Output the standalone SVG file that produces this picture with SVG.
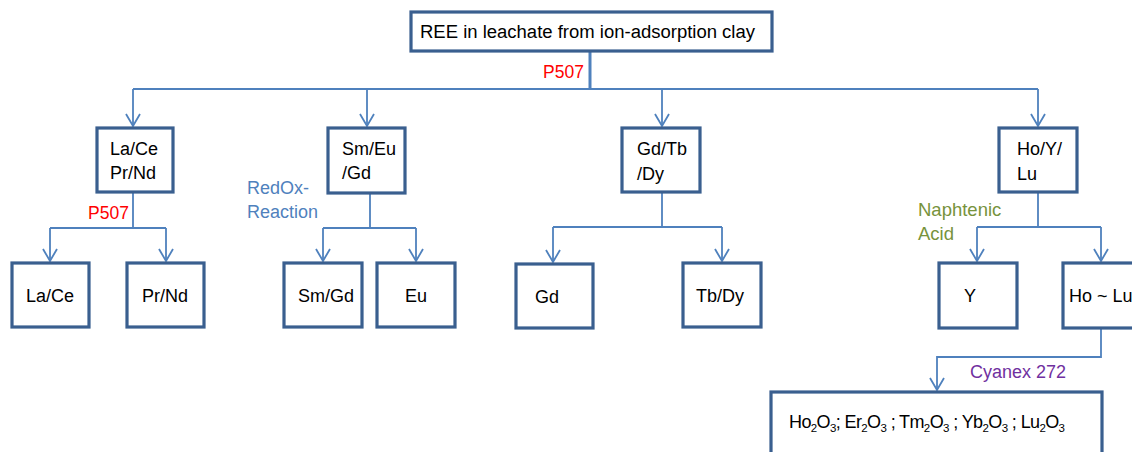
<svg xmlns="http://www.w3.org/2000/svg" width="1132" height="452" viewBox="0 0 1132 452">
  <style>
    .box { fill: #ffffff; stroke: #3a5f8f; stroke-width: 3.2; }
    .lbl { font-family: "Liberation Sans", Arial, sans-serif; font-size: 18px; fill: #000000; }
    .con { fill: none; stroke: #4f81bd; stroke-width: 1.8; }
    .note { font-family: "Liberation Sans", Arial, sans-serif; font-size: 18px; }
    .sub { font-size: 11.5px; }
  </style>
  <defs>
    <marker id="arrow" markerUnits="userSpaceOnUse" markerWidth="20" markerHeight="20" refX="0" refY="0" orient="auto" overflow="visible">
      <path d="M -12 -7 L 0 0 L -12 7" fill="none" stroke="#4f81bd" stroke-width="1.8"/>
    </marker>
  </defs>

  <rect width="1132" height="452" fill="#ffffff"/>

  <!-- connectors -->
  <g id="connectors" class="con">
    <path d="M590 51 V89" stroke-width="3"/>
    <path d="M133 89 H1038"/>
    <path d="M133 89 V126" marker-end="url(#arrow)"/>
    <path d="M367 89 V126" marker-end="url(#arrow)"/>
    <path d="M662 89 V126" marker-end="url(#arrow)"/>
    <path d="M1038 89 V126" marker-end="url(#arrow)"/>

    <path d="M133 193 V228 M50 228 H166"/>
    <path d="M50 228 V261" marker-end="url(#arrow)"/>
    <path d="M166 228 V261" marker-end="url(#arrow)"/>

    <path d="M370 194 V228 M323 228 H416"/>
    <path d="M323 228 V261" marker-end="url(#arrow)"/>
    <path d="M416 228 V261" marker-end="url(#arrow)"/>

    <path d="M662 193 V227 M553 227 H722"/>
    <path d="M553 227 V262" marker-end="url(#arrow)"/>
    <path d="M722 227 V261" marker-end="url(#arrow)"/>

    <path d="M1038 193 V227 M977 227 H1101"/>
    <path d="M977 227 V261" marker-end="url(#arrow)"/>
    <path d="M1101 227 V261" marker-end="url(#arrow)"/>

    <path d="M1101 329 V357 H937 V390" marker-end="url(#arrow)"/>
  </g>

  <!-- reagent labels -->
  <g id="labels" class="note">
    <text x="543" y="78" fill="#ff0000" font-size="17.5">P507</text>
    <text x="88" y="219" fill="#ff0000" font-size="17.5">P507</text>
    <text x="247" y="194" fill="#4f81bd">RedOx-</text>
    <text x="247" y="218" fill="#4f81bd">Reaction</text>
    <text x="918" y="216" fill="#77933c" font-size="18.5">Naphtenic</text>
    <text x="918" y="240" fill="#77933c" font-size="18.5">Acid</text>
    <text x="970" y="378" fill="#7030a0">Cyanex 272</text>
  </g>

  <!-- nodes -->
  <g id="source">
    <rect class="box" x="411" y="12" width="361" height="39"/>
    <text class="lbl" x="420" y="38" textLength="335" lengthAdjust="spacingAndGlyphs">REE in leachate from ion-adsorption clay</text>
  </g>
  <g id="la-ce-pr-nd">
    <rect class="box" x="97" y="128" width="76" height="64"/>
    <text class="lbl" x="110" y="155">La/Ce</text>
    <text class="lbl" x="110" y="179">Pr/Nd</text>
  </g>
  <g id="sm-eu-gd">
    <rect class="box" x="328" y="128" width="77" height="65"/>
    <text class="lbl" x="342" y="155">Sm/Eu</text>
    <text class="lbl" x="342" y="179">/Gd</text>
  </g>
  <g id="gd-tb-dy">
    <rect class="box" x="622" y="128" width="78" height="64"/>
    <text class="lbl" x="637" y="155">Gd/Tb</text>
    <text class="lbl" x="637" y="180">/Dy</text>
  </g>
  <g id="ho-y-lu">
    <rect class="box" x="999" y="128" width="78" height="64"/>
    <text class="lbl" x="1017" y="155">Ho/Y/</text>
    <text class="lbl" x="1017" y="180">Lu</text>
  </g>
  <g id="la-ce">
    <rect class="box" x="12" y="263" width="77" height="64"/>
    <text class="lbl" x="26" y="302">La/Ce</text>
  </g>
  <g id="pr-nd">
    <rect class="box" x="127" y="263" width="77" height="64"/>
    <text class="lbl" x="142" y="302">Pr/Nd</text>
  </g>
  <g id="sm-gd">
    <rect class="box" x="284" y="263" width="78" height="64"/>
    <text class="lbl" x="298" y="302">Sm/Gd</text>
  </g>
  <g id="eu">
    <rect class="box" x="377" y="263" width="78" height="64"/>
    <text class="lbl" x="405" y="302">Eu</text>
  </g>
  <g id="gd">
    <rect class="box" x="516" y="264" width="77" height="64"/>
    <text class="lbl" x="535" y="303">Gd</text>
  </g>
  <g id="tb-dy">
    <rect class="box" x="683" y="263" width="78" height="64"/>
    <text class="lbl" x="696" y="302">Tb/Dy</text>
  </g>
  <g id="y">
    <rect class="box" x="939" y="263" width="78" height="65"/>
    <text class="lbl" x="964" y="302">Y</text>
  </g>
  <g id="ho-lu">
    <rect class="box" x="1063" y="263" width="80" height="65"/>
    <text class="lbl" x="1069" y="302">Ho ~ Lu</text>
  </g>
  <g id="oxides">
    <rect class="box" x="771" y="392" width="331" height="70"/>
    <text class="lbl" x="789" y="428" font-size="16.3" textLength="276" lengthAdjust="spacing">Ho<tspan class="sub" dy="4">2</tspan><tspan dy="-4">O</tspan><tspan class="sub" dy="4">3</tspan><tspan dy="-4">; Er</tspan><tspan class="sub" dy="4">2</tspan><tspan dy="-4">O</tspan><tspan class="sub" dy="4">3</tspan><tspan dy="-4"> ; Tm</tspan><tspan class="sub" dy="4">2</tspan><tspan dy="-4">O</tspan><tspan class="sub" dy="4">3</tspan><tspan dy="-4"> ; Yb</tspan><tspan class="sub" dy="4">2</tspan><tspan dy="-4">O</tspan><tspan class="sub" dy="4">3</tspan><tspan dy="-4"> ; Lu</tspan><tspan class="sub" dy="4">2</tspan><tspan dy="-4">O</tspan><tspan class="sub" dy="4">3</tspan></text>
  </g>
</svg>
